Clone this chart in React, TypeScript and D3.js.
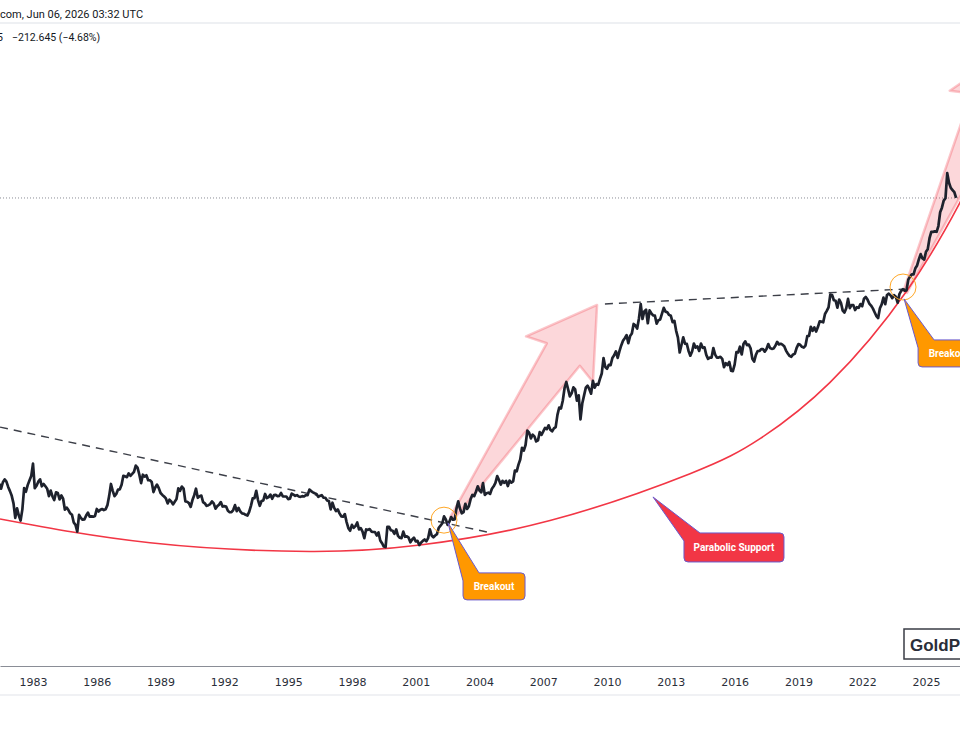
import React, { useEffect, useRef } from 'react';
import { select, scaleLinear, scaleLog, line, curveNatural, axisBottom } from 'd3';

const W = 960;
const H = 750;
const plotBottom = 666;

// monthly closes (USD/oz), first value = June 1981
const closes1980s = [
  425, 408, 430, 440, 432, 414, 400,
  385, 362, 322, 348, 328, 315, 345, 410, 398, 420, 436, 452,
  500, 410, 418, 432, 440, 416, 424, 416, 408, 384, 402, 383,
  372, 396, 394, 374, 386, 376, 344, 350, 343, 334, 330, 310,
  304, 288, 330, 322, 317, 318, 328, 336, 325, 326, 325, 327,
  346, 339, 344, 346, 343, 345, 357, 385, 424, 401, 384, 391,
  405, 406, 421, 453, 451, 448, 462, 453, 460, 468, 492, 484,
  458, 427, 457, 450, 455, 437, 437, 431, 397, 412, 422, 410,
  394, 388, 383, 377, 362, 373, 368, 359, 367, 375, 409, 401,
];
const closes1990s = [
  415, 408, 368, 367, 363, 352, 372, 387, 408, 379, 384, 386,
  366, 362, 355, 357, 360, 368, 362, 347, 354, 358, 366, 353,
  354, 353, 341, 337, 337, 343, 357, 340, 349, 339, 334, 333,
  330, 328, 338, 355, 377, 378, 401, 372, 355, 369, 371, 391,
  378, 381, 389, 376, 387, 388, 384, 385, 394, 383, 383, 383,
  375, 376, 392, 389, 385, 387, 383, 382, 384, 383, 387, 387,
  405, 400, 396, 393, 391, 382, 385, 387, 379, 379, 371, 369,
  345, 364, 349, 340, 345, 334, 326, 325, 332, 311, 296, 290,
  304, 297, 301, 310, 293, 296, 288, 273, 293, 292, 294, 288,
  287, 287, 279, 286, 268, 262, 255, 254, 299, 299, 291, 290,
];
const closes2000s = [
  283, 293, 278, 274, 273, 288, 276, 277, 274, 264, 270, 274,
  266, 267, 258, 263, 267, 270, 266, 273, 293, 279, 275, 279,
  282, 297, 302, 308, 326, 318, 304, 312, 324, 317, 318, 347,
  368, 347, 334, 337, 361, 346, 354, 375, 388, 384, 398, 416,
  402, 396, 427, 388, 393, 395, 391, 408, 416, 428, 452, 438,
  422, 435, 428, 435, 417, 436, 429, 433, 473, 470, 496, 517,
  569, 556, 582, 654, 643, 614, 633, 624, 599, 604, 646, 632,
  650, 669, 662, 683, 659, 650, 666, 673, 743, 789, 783, 834,
  923, 971, 916, 864, 885, 930, 914, 834, 871, 717, 815, 869,
  927, 942, 916, 883, 980, 927, 955, 949, 996, 1040, 1179, 1097,
];
const closes2010s = [
  1081, 1117, 1113, 1180, 1207, 1245, 1181, 1247, 1307, 1357, 1386, 1421,
  1332, 1410, 1439, 1556, 1536, 1500, 1628, 1828, 1620, 1722, 1746, 1565,
  1738, 1697, 1668, 1664, 1560, 1604, 1614, 1692, 1773, 1720, 1712, 1675,
  1663, 1578, 1596, 1472, 1393, 1234, 1312, 1396, 1327, 1323, 1250, 1202,
  1244, 1326, 1284, 1296, 1250, 1327, 1282, 1287, 1210, 1172, 1183, 1184,
  1279, 1213, 1184, 1184, 1191, 1172, 1095, 1132, 1115, 1142, 1065, 1061,
  1118, 1238, 1234, 1293, 1215, 1322, 1351, 1309, 1316, 1277, 1173, 1146,
  1211, 1249, 1249, 1268, 1269, 1242, 1269, 1322, 1280, 1271, 1275, 1303,
  1345, 1318, 1325, 1315, 1299, 1253, 1224, 1201, 1192, 1215, 1222, 1282,
  1321, 1313, 1292, 1284, 1305, 1409, 1413, 1520, 1472, 1513, 1463, 1517,
];
const closes2020s = [
  1589, 1585, 1577, 1687, 1730, 1781, 1975, 1968, 1886, 1879, 1776, 1898,
  1848, 1734, 1708, 1769, 1907, 1770, 1814, 1813, 1743, 1783, 1774, 1829,
  1797, 1909, 1937, 1897, 1837, 1807, 1766, 1711, 1660, 1633, 1768, 1824,
  1928, 1827, 1969, 1990, 1963, 1919, 1965, 1940, 1849, 1983, 2036, 2063,
  2039, 2044, 2230, 2286, 2327, 2326, 2447, 2503, 2634, 2744, 2650, 2625,
  2798, 2858, 3124, 3288, 3289, 3303, 3290, 3448, 3858, 4003, 4240, 4320,
  5300, 4900, 4700, 4620, 4544, 4331,
];

const firstMonth = 1981 + 5 / 12;
const closes = [...closes1980s, ...closes1990s, ...closes2000s, ...closes2010s, ...closes2020s];
const series = closes.map((v, i) => ({ t: firstMonth + i / 12, v }));
const lastClose = closes[closes.length - 1];

const yearTicks = [1983, 1986, 1989, 1992, 1995, 1998, 2001, 2004, 2007, 2010, 2013, 2016, 2019, 2022, 2025];

// drawings, as [decimal year, price]
const supportCurve: [number, number][] = [
  [1981.448, 319], [1988.503, 262.9], [1996.029, 244.9], [2001.203, 258.2],
  [2007.318, 314.9], [2013.903, 460.9], [2017.196, 612.6], [2020.489, 967.9],
  [2024.111, 2042.7], [2026.603, 4176.5], [2028.014, 6816.8],
];
const downTrend: [number, number][] = [[1981.45, 673], [2004.35, 287]];
const topTrend: [number, number][] = [[2009.9, 1831], [2024.02, 2067]];
const breakoutRings: [number, number][] = [[2002.33, 316], [2023.92, 2101]];
const arrows: { tail: [number, number]; tip: [number, number] }[] = [
  { tail: [2002.71, 321.6], tip: [2009.53, 1816] },
  { tail: [2024.02, 2017], tip: [2029.14, 14771] },
];
const callouts = [
  { text: 'Breakout', tip: [2002.52, 309], dx: 15, dy: 50, w: 62, h: 27, fill: '#ff9800' },
  { text: 'Parabolic Support', tip: [2012.16, 381.5], dx: 31, dy: 36, w: 100, h: 29, fill: '#f23645' },
  { text: 'Breakout', tip: [2023.97, 1907], dx: 14, dy: 41, w: 62, h: 27, fill: '#ff9800' },
];

const x = scaleLinear().domain([1981.448, 2026.6]).range([0, W]);
const y = scaleLog().domain([96.6, 21640]).range([plotBottom, 0]);

const px = (d: [number, number]): [number, number] => [x(d[0]), y(d[1])];

function arrowPoints(tail: [number, number], tip: [number, number]) {
  const dx = tip[0] - tail[0];
  const dy = tip[1] - tail[1];
  const L = Math.hypot(dx, dy);
  const ux = dx / L, uy = dy / L;
  const nx = uy, ny = -ux;
  const at = (a: number, s: number) => [tail[0] + ux * a + nx * s, tail[1] + uy * a + ny * s];
  const pts = [at(0, 2), at(L - 60, 20), at(L - 66, 41), tip, at(L - 66, -40), at(L - 60, -20), at(0, -2)];
  return pts.map(p => p.join(',')).join(' ');
}

function calloutPath(tx: number, ty: number, bx: number, by: number, w: number, h: number) {
  const r = 4;
  return `M${tx},${ty} L${bx + 16},${by} L${bx + w - r},${by} Q${bx + w},${by} ${bx + w},${by + r} ` +
    `L${bx + w},${by + h - r} Q${bx + w},${by + h} ${bx + w - r},${by + h} L${bx + r},${by + h} ` +
    `Q${bx},${by + h} ${bx},${by + h - r} L${bx},${by + 8} Z`;
}

export default function App() {
  const axisRef = useRef<SVGGElement>(null);

  useEffect(() => {
    const g = select(axisRef.current);
    g.call(axisBottom(x).tickValues(yearTicks).tickFormat(d => String(d)).tickSize(0).tickPadding(12) as any);
    g.select('.domain').attr('stroke', '#8a8d96');
    g.selectAll('text')
      .attr('font-family', '"DejaVu Sans", Verdana, sans-serif')
      .attr('font-size', 11)
      .attr('fill', '#2a2e39');
  }, []);

  const priceLine = line<{ t: number; v: number }>().x(d => x(d.t)).y(d => y(d.v));
  const pathOf = line<[number, number]>().x(d => x(d[0])).y(d => y(d[1]));
  const curvePath = line<[number, number]>().x(d => x(d[0])).y(d => y(d[1])).curve(curveNatural);

  return (
    <svg width={W} height={H} style={{ position: 'absolute', left: 0, top: 0, background: '#fff' }}>
      {/* header */}
      <rect x={0} y={22} width={W} height={2} fill="#eef0f3" />
      <text x={0} y={18} fontFamily="Roboto, sans-serif" fontSize={11} fill="#131722">com, Jun 06, 2026 03:32 UTC</text>
      <text x={-3} y={41} fontFamily="Roboto, sans-serif" fontSize={10.5} fill="#131722">5</text>
      <text x={12} y={41} fontFamily="Roboto, sans-serif" fontSize={10.5} fill="#131722">−212.645 (−4.68%)</text>

      {/* last price */}
      <line x1={0} x2={W} y1={y(lastClose)} y2={y(lastClose)} stroke="#8a8d96" strokeWidth={1} strokeDasharray="1 2" />

      {/* arrows */}
      {arrows.map((a, i) => (
        <polygon key={i} points={arrowPoints(px(a.tail), px(a.tip))}
          fill="rgba(242,54,69,0.2)" stroke="rgba(242,54,69,0.28)" strokeWidth={2.5} strokeLinejoin="round" />
      ))}

      {/* trend lines */}
      <path d={pathOf(downTrend) ?? ''} fill="none" stroke="#3c3f48" strokeWidth={1.4} strokeDasharray="8 6" />
      <path d={pathOf(topTrend) ?? ''} fill="none" stroke="#3c3f48" strokeWidth={1.4} strokeDasharray="8 6" />

      {/* parabolic support */}
      <path d={curvePath(supportCurve) ?? ''} fill="none" stroke="#f23645" strokeWidth={1.6} />

      {/* price */}
      <path d={priceLine(series) ?? ''} fill="none" stroke="#1e222d" strokeWidth={2.7} strokeLinejoin="round" />

      {breakoutRings.map((r, i) => (
        <circle key={i} cx={x(r[0])} cy={y(r[1])} r={13} fill="none" stroke="#ffa726" strokeWidth={1} />
      ))}

      {/* callouts */}
      {callouts.map((c, i) => {
        const tx = x(c.tip[0]);
        const ty = y(c.tip[1]);
        const bx = tx + c.dx;
        const by = ty + c.dy;
        return (
          <g key={i}>
            <path d={calloutPath(tx, ty, bx, by, c.w, c.h)} fill={c.fill} stroke="#6a5acd" strokeWidth={1} strokeLinejoin="round" />
            <text x={bx + c.w / 2} y={by + c.h / 2} dy="0.35em" textAnchor="middle"
              fontFamily="Roboto, sans-serif" fontWeight="bold" fontSize={10} fill="#fff">{c.text}</text>
          </g>
        );
      })}

      {/* watermark */}
      <rect x={904} y={629} width={120} height={30} fill="#fff" stroke="#3a3d45" strokeWidth={1.5} />
      <text x={910} y={651} fontFamily="'Liberation Sans', Arial, sans-serif" fontWeight="bold" fontSize={17} fill="#2a2e39">GoldPrice.org</text>

      {/* time axis */}
      <g ref={axisRef} transform={`translate(0,${plotBottom})`} />
      <rect x={0} y={694} width={W} height={2} fill="#f0f1f4" />
    </svg>
  );
}
